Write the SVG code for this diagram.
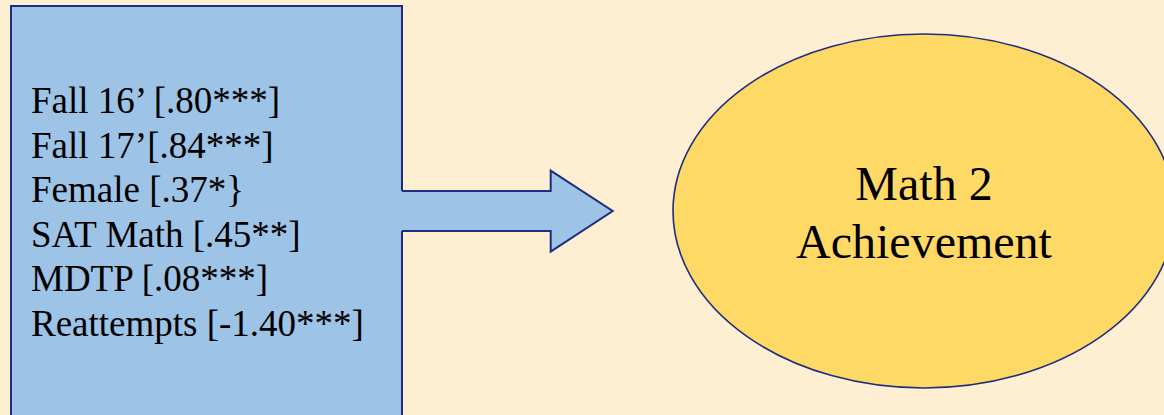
<svg xmlns="http://www.w3.org/2000/svg" width="1164" height="415" viewBox="0 0 1164 415">
<style>
.bg{fill:#FEEED2}
.box{fill:#9DC3E6;stroke:#1F2D7F;stroke-width:2}
.oval{fill:#FFD966;stroke:#1F2D7F;stroke-width:1.6}
.t{fill:#000}
.l{font-size:37px}
.c{font-size:48px;text-anchor:middle}
</style>
<rect class="bg" x="0" y="0" width="1164" height="415"/>
<g id="predictors" font-family="'Liberation Serif', 'Times New Roman', serif">
<rect class="box" x="11" y="6" width="391" height="420"/>
<text class="t l" x="31" y="113">Fall 16’ [.80***]</text>
<text class="t l" x="31" y="157.5">Fall 17’[.84***]</text>
<text class="t l" x="31" y="202">Female [.37*}</text>
<text class="t l" x="31" y="246.5">SAT Math [.45**]</text>
<text class="t l" x="31" y="291">MDTP [.08***]</text>
<text class="t l" x="31" y="335.5">Reattempts [-1.40***]</text>
</g>
<g id="connectors">
<polygon points="400,191 550.7,191 550.7,170.7 612.7,211 550.7,251.7 550.7,231 400,231" fill="#9DC3E6"/>
<polyline points="402,191 550.7,191 550.7,170.7 612.7,211 550.7,251.7 550.7,231 402,231" fill="none" stroke="#1F2D7F" stroke-width="2" stroke-linejoin="miter"/>
</g>
<g id="achievement" font-family="'Liberation Serif', 'Times New Roman', serif">
<ellipse class="oval" cx="924" cy="211" rx="251" ry="177"/>
<text class="t c" x="924" y="200">Math 2</text>
<text class="t c" x="924" y="258">Achievement</text>
</g>
</svg>
